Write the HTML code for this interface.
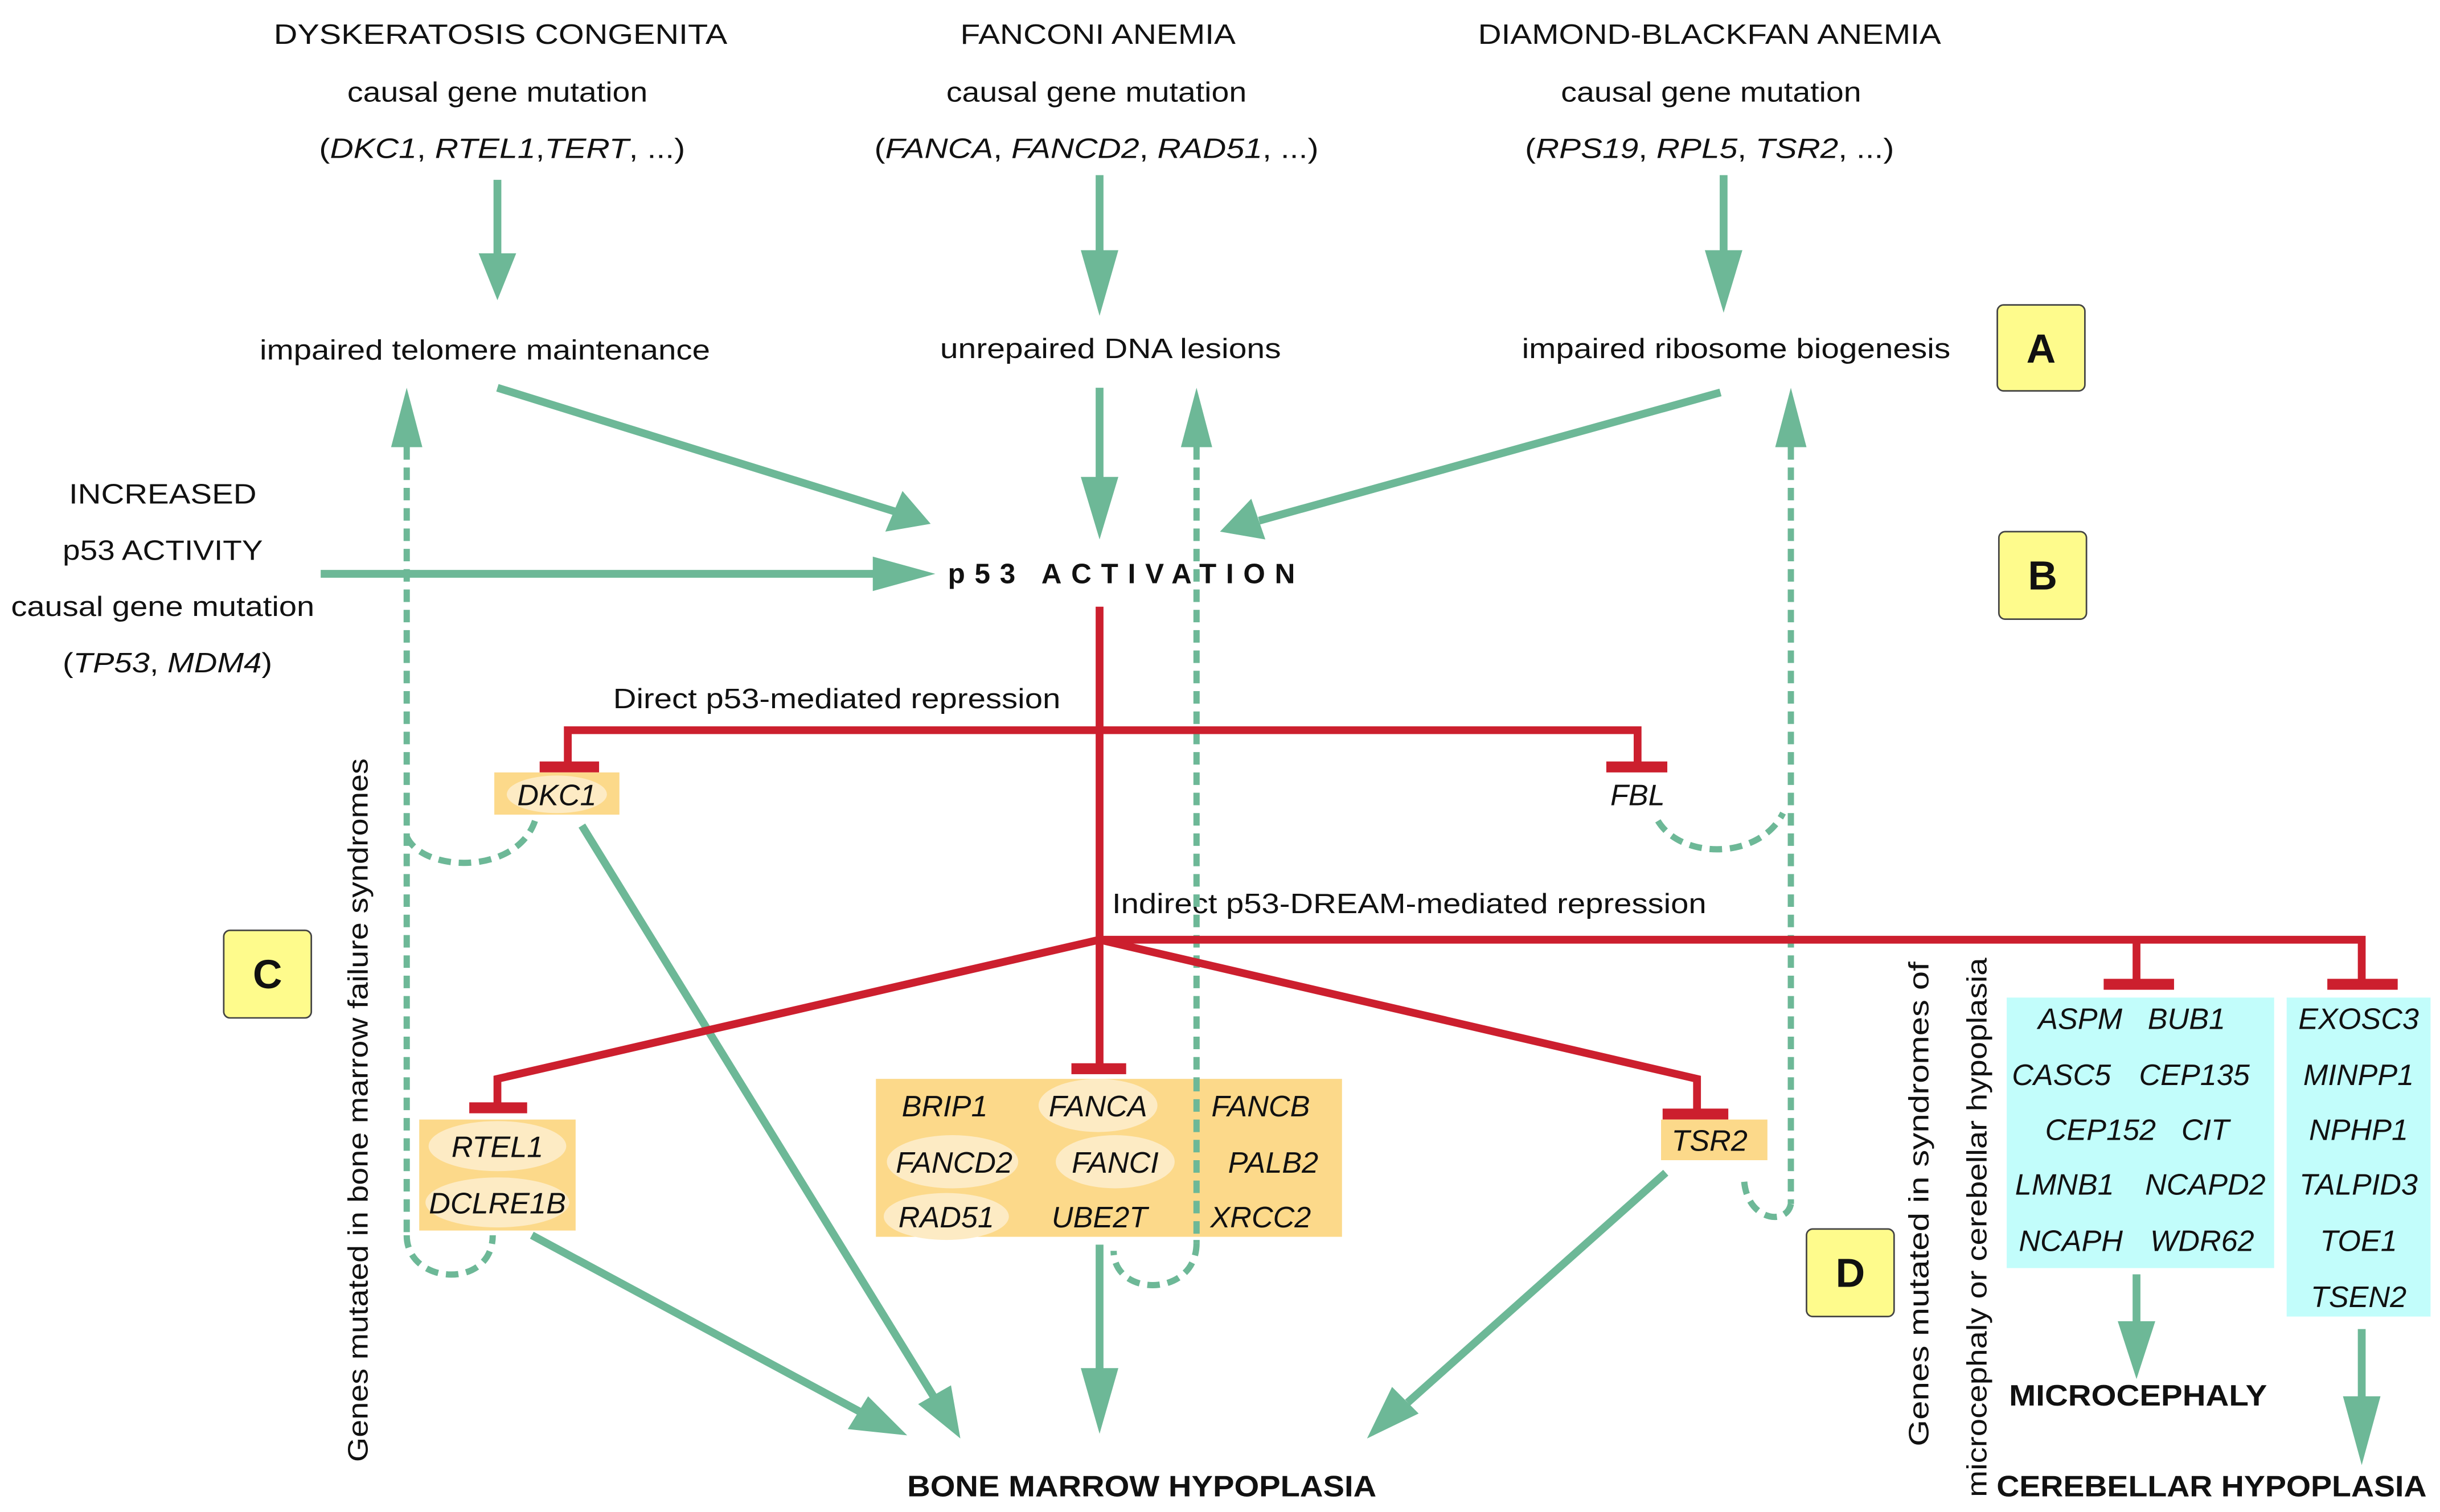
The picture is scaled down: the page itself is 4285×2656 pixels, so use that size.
<!DOCTYPE html>
<html><head><meta charset="utf-8"><style>
html,body{margin:0;padding:0;background:#fff;}
svg{display:block;}
text{font-family:"Liberation Sans",sans-serif;fill:#111;}
.t{font-size:18px;}
.i{font-style:italic;font-size:18px;}
.b{font-weight:bold;font-size:18px;}
</style></head><body>
<svg width="4285" height="2656" viewBox="0 0 1560 967" xmlns="http://www.w3.org/2000/svg">
<rect width="1560" height="967" fill="#fff"/>

<g class="t" text-anchor="middle">
<text x="320" y="28" class="t" textLength="290" lengthAdjust="spacingAndGlyphs">DYSKERATOSIS CONGENITA</text>
<text x="318" y="65" class="t" textLength="192" lengthAdjust="spacingAndGlyphs">causal gene mutation</text>
<text x="321" y="101" class="t" textLength="234" lengthAdjust="spacingAndGlyphs">(<tspan font-style="italic">DKC1</tspan>, <tspan font-style="italic">RTEL1</tspan>,<tspan font-style="italic">TERT</tspan>, ...)</text>
<text x="702" y="28" class="t" textLength="176" lengthAdjust="spacingAndGlyphs">FANCONI ANEMIA</text>
<text x="701" y="65" class="t" textLength="192" lengthAdjust="spacingAndGlyphs">causal gene mutation</text>
<text x="701" y="101" class="t" textLength="284" lengthAdjust="spacingAndGlyphs">(<tspan font-style="italic">FANCA</tspan>, <tspan font-style="italic">FANCD2</tspan>, <tspan font-style="italic">RAD51</tspan>, ...)</text>
<text x="1093" y="28" class="t" textLength="296" lengthAdjust="spacingAndGlyphs">DIAMOND-BLACKFAN ANEMIA</text>
<text x="1094" y="65" class="t" textLength="192" lengthAdjust="spacingAndGlyphs">causal gene mutation</text>
<text x="1093" y="101" class="t" textLength="236" lengthAdjust="spacingAndGlyphs">(<tspan font-style="italic">RPS19</tspan>, <tspan font-style="italic">RPL5</tspan>, <tspan font-style="italic">TSR2</tspan>, ...)</text>
<text x="310" y="230" class="t" textLength="288" lengthAdjust="spacingAndGlyphs">impaired telomere maintenance</text>
<text x="710" y="229" class="t" textLength="218" lengthAdjust="spacingAndGlyphs">unrepaired DNA lesions</text>
<text x="1110" y="229" class="t" textLength="274" lengthAdjust="spacingAndGlyphs">impaired ribosome biogenesis</text>
<text x="104" y="322" class="t" textLength="120" lengthAdjust="spacingAndGlyphs">INCREASED</text>
<text x="104" y="358" class="t" textLength="128" lengthAdjust="spacingAndGlyphs">p53 ACTIVITY</text>
<text x="104" y="394" class="t" textLength="194" lengthAdjust="spacingAndGlyphs">causal gene mutation</text>
<text x="107" y="430" class="t" textLength="134" lengthAdjust="spacingAndGlyphs">(<tspan font-style="italic">TP53</tspan>, <tspan font-style="italic">MDM4</tspan>)</text>
</g>
<text x="606" y="373" font-weight="bold" font-size="18" textLength="222" lengthAdjust="spacing">p53 ACTIVATION</text>
<text x="535" y="453" class="t" text-anchor="middle" textLength="286" lengthAdjust="spacingAndGlyphs">Direct p53-mediated repression</text>
<text x="711" y="584" class="t" textLength="380" lengthAdjust="spacingAndGlyphs">Indirect p53-DREAM-mediated repression</text>

<g fill="#fefb8c" stroke="#444" stroke-width="1">
<rect x="1277" y="195" width="56" height="55" rx="4"/>
<rect x="1278" y="340" width="56" height="56" rx="4"/>
<rect x="143" y="595" width="56" height="56" rx="4"/>
<rect x="1155" y="786" width="56" height="56" rx="4"/>
</g>
<g font-size="26" font-weight="bold" text-anchor="middle">
<text x="1305" y="232">A</text><text x="1306" y="377">B</text><text x="171" y="632">C</text><text x="1183" y="823">D</text>
</g>

<g stroke="#6db897" stroke-width="5" fill="none">
<line x1="318" y1="115" x2="318" y2="162"/>
<line x1="703" y1="112" x2="703" y2="165"/>
<line x1="1102" y1="112" x2="1102" y2="162"/>
<line x1="318" y1="248" x2="575" y2="328"/>
<line x1="703" y1="248" x2="703" y2="310"/>
<line x1="1100" y1="251" x2="805" y2="333"/>
<line x1="205" y1="367" x2="560" y2="367"/>
<line x1="372" y1="528" x2="598" y2="895"/>
<line x1="340" y1="790" x2="550" y2="903"/>
<line x1="703" y1="796" x2="703" y2="880"/>
<line x1="1065" y1="750" x2="900" y2="897"/>
<line x1="1366" y1="815" x2="1366" y2="850"/>
<line x1="1510" y1="850" x2="1510" y2="900"/>
</g>
<g fill="#6db897">
<polygon points="306,162 330,162 318,192"/>
<polygon points="691,160 715,160 703,202"/>
<polygon points="1090,160 1114,160 1102,200"/>
<polygon points="595,335 566,340 577,314"/>
<polygon points="691,305 715,305 703,345"/>
<polygon points="780,340 800,319 809,345"/>
<polygon points="598,367 558,356 558,378"/>
<polygon points="614,920 587,898 608,886"/>
<polygon points="580,918 542,914 555,893"/>
<polygon points="691,875 715,875 703,917"/>
<polygon points="874,920 890,887 907,904"/>
<polygon points="1354,845 1378,845 1366,882"/>
<polygon points="1498,893 1522,893 1510,937"/>
<polygon points="250,286 270,286 260,248"/>
<polygon points="755,286 775,286 765,248"/>
<polygon points="1135,286 1155,286 1145,248"/>
</g>

<g stroke="#6db897" stroke-width="4" fill="none" stroke-dasharray="8,5">
<line x1="260" y1="286" x2="260" y2="790"/>
<path d="M260,790 C260,822 315,825 315,790"/>
<path d="M260,535 C270,558 330,560 342,525"/>
<line x1="765" y1="286" x2="765" y2="795"/>
<path d="M765,795 C765,830 712,830 712,800"/>
<line x1="1145" y1="286" x2="1145" y2="770"/>
<path d="M1145,770 C1142,785 1115,780 1115,752"/>
<path d="M1060,525 C1075,550 1125,550 1140,520"/>
</g>

<g stroke="#cc1f2e" stroke-width="5" fill="none">
<line x1="703" y1="388" x2="703" y2="683"/>
<polyline points="363,490 363,467 1047,467 1047,490"/>
<polyline points="703,601 1510,601 1510,628"/>
<line x1="1366" y1="601" x2="1366" y2="628"/>
<polyline points="703,601 318,690 318,708"/>
<polyline points="703,601 1085,690 1085,712"/>
</g>
<g fill="#cc1f2e">
<rect x="345" y="487" width="38" height="7"/>
<rect x="1027" y="487" width="39" height="7"/>
<rect x="1345" y="626" width="45" height="7"/>
<rect x="1488" y="626" width="45" height="7"/>
<rect x="300" y="705" width="37" height="7"/>
<rect x="1063" y="709" width="42" height="7"/>
<rect x="685" y="680" width="35" height="7"/>
</g>

<g fill="#fcd98a">
<rect x="316" y="494" width="80" height="27"/>
<rect x="268" y="716" width="100" height="71"/>
<rect x="560" y="690" width="298" height="101"/>
<rect x="1062" y="716" width="68" height="26"/>
</g>
<g fill="#fdebc4">
<ellipse cx="356" cy="508" rx="32" ry="12"/>
<ellipse cx="318" cy="733" rx="44" ry="16"/>
<ellipse cx="318" cy="769" rx="46" ry="16"/>
<ellipse cx="702" cy="707" rx="38" ry="17"/>
<ellipse cx="609" cy="743" rx="42" ry="17"/>
<ellipse cx="713" cy="743" rx="38" ry="17"/>
<ellipse cx="605" cy="778" rx="40" ry="15"/>
</g>
<line x1="765" y1="690" x2="765" y2="791" stroke="#6db897" stroke-width="4" stroke-dasharray="8,5"/>

<g fill="#c2fdfb">
<rect x="1283" y="638" width="171" height="173"/>
<rect x="1462" y="638" width="92" height="204"/>
</g>

<g text-anchor="middle" font-style="italic" font-size="19">
<text x="356" y="515">DKC1</text>
<text x="1047" y="515">FBL</text>
<text x="318" y="740">RTEL1</text>
<text x="318" y="776">DCLRE1B</text>
<text x="1093" y="736">TSR2</text>
<text x="604" y="714">BRIP1</text>
<text x="702" y="714">FANCA</text>
<text x="806" y="714">FANCB</text>
<text x="610" y="750">FANCD2</text>
<text x="713" y="750">FANCI</text>
<text x="814" y="750">PALB2</text>
<text x="605" y="785">RAD51</text>
<text x="703" y="785">UBE2T</text>
<text x="806" y="785">XRCC2</text>
<text x="1330" y="658">ASPM</text><text x="1398" y="658">BUB1</text>
<text x="1318" y="694">CASC5</text><text x="1403" y="694">CEP135</text>
<text x="1343" y="729">CEP152</text><text x="1410" y="729">CIT</text>
<text x="1320" y="764">LMNB1</text><text x="1410" y="764">NCAPD2</text>
<text x="1324" y="800">NCAPH</text><text x="1408" y="800">WDR62</text>
<text x="1508" y="658">EXOSC3</text>
<text x="1508" y="694">MINPP1</text>
<text x="1508" y="729">NPHP1</text>
<text x="1508" y="764">TALPID3</text>
<text x="1508" y="800">TOE1</text>
<text x="1508" y="836">TSEN2</text>
</g>

<g font-weight="bold" font-size="19" text-anchor="middle">
<text x="1367" y="899" textLength="165" lengthAdjust="spacingAndGlyphs">MICROCEPHALY</text>
<text x="1414" y="957" textLength="275" lengthAdjust="spacingAndGlyphs">CEREBELLAR HYPOPLASIA</text>
<text x="730" y="957" textLength="300" lengthAdjust="spacingAndGlyphs">BONE MARROW HYPOPLASIA</text>
</g>

<g class="t" text-anchor="middle">
<text transform="translate(235,710) rotate(-90)" class="t" textLength="450" lengthAdjust="spacingAndGlyphs">Genes mutated in bone marrow failure syndromes</text>
<text transform="translate(1233,770) rotate(-90)" class="t" textLength="310" lengthAdjust="spacingAndGlyphs">Genes mutated in syndromes of</text>
<text transform="translate(1270,785) rotate(-90)" class="t" textLength="345" lengthAdjust="spacingAndGlyphs">microcephaly or cerebellar hypoplasia</text>
</g>
</svg>
</body></html>
